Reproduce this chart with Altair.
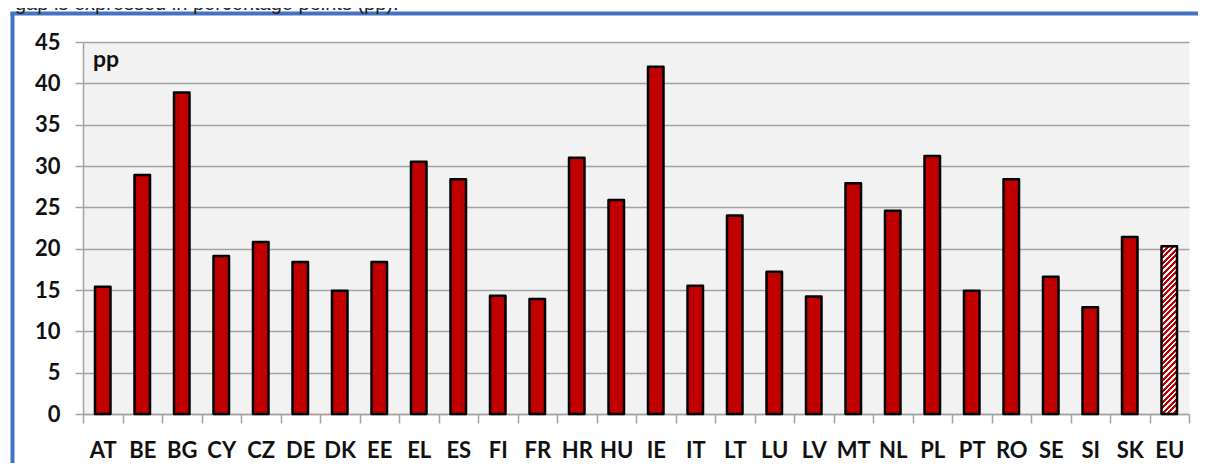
import altair as alt
import pandas as pd

# ---- data ----
countries = ["AT", "BE", "BG", "CY", "CZ", "DE", "DK", "EE", "EL", "ES", "FI", "FR",
             "HR", "HU", "IE", "IT", "LT", "LU", "LV", "MT", "NL", "PL", "PT", "RO",
             "SE", "SI", "SK", "EU"]
gap_pp = [15.4, 28.9, 38.9, 19.1, 20.8, 18.4, 14.9, 18.4, 30.5, 28.4, 14.3, 13.9,
          31.0, 25.9, 42.0, 15.5, 24.0, 17.2, 14.2, 27.9, 24.6, 31.2, 14.9, 28.4,
          16.6, 12.9, 21.4, 20.3]
y_ticks = [0, 5, 10, 15, 20, 25, 30, 35, 40, 45]
title_text = ["gap is expressed in percentage points (pp)."]
unit_label = ["pp"]

# ---- styling ----
W, H = 1106, 372
Y_MAX = 45
BAR_W = 15.5
STROKE_W = 2.5
RED = "#C00000"
GRID = "#A3A3A3"
BLUE = "#4472C4"
LABEL_FONT = "Lato"

df = pd.DataFrame({
    "country": countries,
    "gap": gap_pp,
    "kind": ["EU" if c == "EU" else "MS" for c in countries],
})

# hatched fill for the EU bar, built as a striped linear gradient ("////")
eu_val = gap_pp[countries.index("EU")]
h_px = eu_val * H / Y_MAX
w_px = BAR_W
c = (w_px + h_px) / (w_px ** 2 + h_px ** 2)
period = 5.5
n_stripes = int(round((w_px + h_px) / period))
stops = []
for i in range(n_stripes):
    a = i / n_stripes
    b = (i + 0.55) / n_stripes
    e = (i + 1) / n_stripes
    stops += [alt.GradientStop(offset=a, color=RED), alt.GradientStop(offset=b, color=RED),
              alt.GradientStop(offset=b, color="#FFFFFF"), alt.GradientStop(offset=e, color="#FFFFFF")]
hatch = alt.LinearGradient(gradient="linear", stops=stops, x1=0, y1=0, x2=c * w_px, y2=c * h_px)

x_enc = alt.X(
    "country:N",
    scale=alt.Scale(domain=countries, paddingInner=0, paddingOuter=0),
    axis=alt.Axis(title=None, labelAngle=0, tickBand="extent", grid=False,
                  labelFont=LABEL_FONT, labelFontWeight="bold", labelFontSize=22,
                  labelColor="#111111", labelPadding=17, tickSize=9,
                  tickColor=GRID, tickWidth=1.5, domainColor=GRID, domainWidth=1.5),
)
y_enc = alt.Y(
    "gap:Q",
    scale=alt.Scale(domain=[0, Y_MAX], nice=False),
    axis=alt.Axis(title=None, values=y_ticks, grid=True, gridColor=GRID, gridWidth=1.5,
                  tickSize=8, tickColor=GRID, tickWidth=1.5, domainColor=GRID, domainWidth=1.5,
                  labelFont=LABEL_FONT, labelFontWeight="bold", labelFontSize=22,
                  labelColor="#111111", labelPadding=15),
)

base = alt.Chart(df)
bars = base.transform_filter("datum.kind == 'MS'").mark_bar(
    size=BAR_W, fill=RED, stroke="#000000", strokeWidth=STROKE_W, strokeJoin="round"
).encode(x=x_enc, y=y_enc)
eu_bar = base.transform_filter("datum.kind == 'EU'").mark_bar(
    size=BAR_W, fill=hatch, stroke="#000000", strokeWidth=STROKE_W, strokeJoin="round"
).encode(x=x_enc, y=y_enc)

one = pd.DataFrame({"t": title_text})
unit = pd.DataFrame({"t": unit_label})

border_left = alt.Chart(one).mark_rule(color=BLUE, strokeWidth=4).encode(
    x=alt.value(-70.5), y=alt.value(-30), y2=alt.value(421))
border_top = alt.Chart(one).mark_rule(color=BLUE, strokeWidth=4).encode(
    x=alt.value(-72.5), x2=alt.value(1115), y=alt.value(-28.5))
title = alt.Chart(one).mark_text(
    align="left", baseline="alphabetic", font="Liberation Sans", fontSize=20, color="#222222"
).encode(text="t:N", x=alt.value(-68), y=alt.value(-32.5))
pp = alt.Chart(unit).mark_text(
    align="left", baseline="alphabetic", font=LABEL_FONT, fontWeight="bold", fontSize=23, color="#111111"
).encode(text="t:N", x=alt.value(10), y=alt.value(25))

chart = alt.layer(bars, eu_bar, pp, border_left, border_top, title).properties(
    width=W, height=H,
    padding={"left": 75, "top": 34, "right": 9, "bottom": 49},
    autosize=alt.AutoSizeParams(type="none"),
    background="#FFFFFF",
).configure_view(fill="#F2F2F2", stroke="transparent")

chart.save("out.html", embed_options={"renderer": "svg", "actions": False})
